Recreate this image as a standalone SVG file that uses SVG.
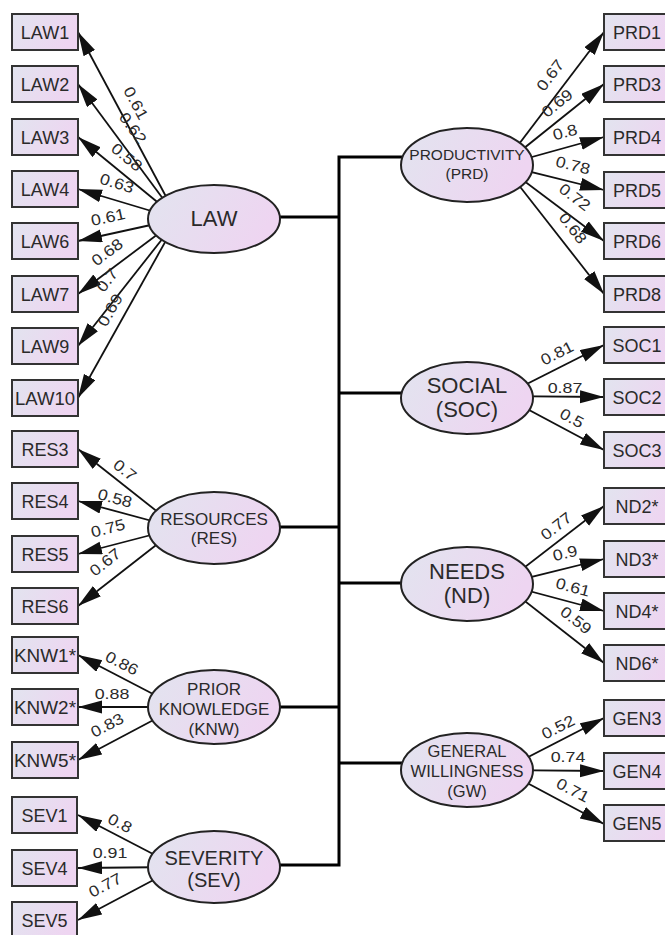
<svg xmlns="http://www.w3.org/2000/svg" width="665" height="935" viewBox="0 0 665 935">
<defs>
<linearGradient id="g" x1="0" y1="0" x2="1" y2="0.3">
<stop offset="0" stop-color="#e2e4ef"/>
<stop offset="1" stop-color="#eed5f1"/>
</linearGradient>
<marker id="ah" markerUnits="userSpaceOnUse" markerWidth="26" markerHeight="14" refX="24" refY="6.5" orient="auto">
<path d="M0,0 L24,6.5 L0,13 z" fill="#111"/>
</marker>
</defs>
<style>
.box{fill:url(#g);stroke:#333;stroke-width:2}
.ell{fill:url(#g);stroke:#222;stroke-width:2}
.bt{font-family:"Liberation Sans",Arial,sans-serif;font-size:18px;fill:#2a2a2a;text-anchor:middle}
.et{font-family:"Liberation Sans",Arial,sans-serif;fill:#2a2a2a;text-anchor:middle}
.lb{font-family:"Liberation Sans",Arial,sans-serif;font-size:15.5px;fill:#2a2a2a;text-anchor:middle}
.ar{stroke:#111;stroke-width:1.8;fill:none;marker-end:url(#ah)}
.bus{stroke:#000;stroke-width:3;fill:none}
</style>
<rect width="665" height="935" fill="#fff"/>
<g id="connectors">
<polyline class="bus" points="402,157 339,157 339,865 280,865"/>
<line class="bus" x1="280" y1="217" x2="339" y2="217"/>
<line class="bus" x1="280" y1="527" x2="339" y2="527"/>
<line class="bus" x1="280" y1="707" x2="339" y2="707"/>
<line class="bus" x1="339" y1="393" x2="402" y2="393"/>
<line class="bus" x1="339" y1="583" x2="402" y2="583"/>
<line class="bus" x1="339" y1="763" x2="402" y2="763"/>
<line class="ar" x1="178" y1="219" x2="78" y2="32"/>
<line class="ar" x1="178" y1="219" x2="78" y2="84"/>
<line class="ar" x1="178" y1="219" x2="78" y2="137"/>
<line class="ar" x1="178" y1="219" x2="78" y2="189"/>
<line class="ar" x1="178" y1="219" x2="78" y2="241"/>
<line class="ar" x1="178" y1="219" x2="78" y2="294"/>
<line class="ar" x1="178" y1="219" x2="78" y2="346"/>
<line class="ar" x1="178" y1="219" x2="78" y2="398"/>
<line class="ar" x1="178" y1="528" x2="78" y2="449"/>
<line class="ar" x1="178" y1="528" x2="78" y2="501"/>
<line class="ar" x1="178" y1="528" x2="78" y2="554"/>
<line class="ar" x1="178" y1="528" x2="78" y2="606"/>
<line class="ar" x1="178" y1="707" x2="78" y2="655"/>
<line class="ar" x1="178" y1="707" x2="78" y2="707"/>
<line class="ar" x1="178" y1="707" x2="78" y2="760"/>
<line class="ar" x1="178" y1="867" x2="78" y2="815"/>
<line class="ar" x1="178" y1="867" x2="78" y2="868"/>
<line class="ar" x1="178" y1="867" x2="78" y2="920"/>
<line class="ar" x1="503" y1="165" x2="604" y2="32"/>
<line class="ar" x1="503" y1="165" x2="604" y2="84"/>
<line class="ar" x1="503" y1="165" x2="604" y2="137"/>
<line class="ar" x1="503" y1="165" x2="604" y2="190"/>
<line class="ar" x1="503" y1="165" x2="604" y2="241"/>
<line class="ar" x1="503" y1="165" x2="604" y2="294"/>
<line class="ar" x1="503" y1="396" x2="604" y2="345"/>
<line class="ar" x1="503" y1="396" x2="604" y2="397"/>
<line class="ar" x1="503" y1="396" x2="604" y2="450"/>
<line class="ar" x1="503" y1="584" x2="604" y2="506"/>
<line class="ar" x1="503" y1="584" x2="604" y2="559"/>
<line class="ar" x1="503" y1="584" x2="604" y2="611"/>
<line class="ar" x1="503" y1="584" x2="604" y2="663"/>
<line class="ar" x1="503" y1="770" x2="604" y2="718"/>
<line class="ar" x1="503" y1="770" x2="604" y2="771"/>
<line class="ar" x1="503" y1="770" x2="604" y2="824"/>
<g class="lb">
<text transform="translate(136,103) rotate(61.9) scale(1.15,1)" y="5.5">0.61</text>
<text transform="translate(133,128) rotate(53.5) scale(1.15,1)" y="5.5">0.62</text>
<text transform="translate(127,157) rotate(39.4) scale(1.15,1)" y="5.5">0.58</text>
<text transform="translate(117,183) rotate(16.7) scale(1.15,1)" y="5.5">0.63</text>
<text transform="translate(108,217) rotate(-12.4) scale(1.15,1)" y="5.5">0.61</text>
<text transform="translate(107,252) rotate(-36.9) scale(1.15,1)" y="5.5">0.68</text>
<text transform="translate(107,280) rotate(-51.8) scale(1.15,1)" y="5.5">0.7</text>
<text transform="translate(110,310) rotate(-60.8) scale(1.15,1)" y="5.5">0.69</text>
<text transform="translate(125,470) rotate(38.3) scale(1.15,1)" y="5.5">0.7</text>
<text transform="translate(115,498) rotate(15.1) scale(1.15,1)" y="5.5">0.58</text>
<text transform="translate(108,528) rotate(-14.6) scale(1.15,1)" y="5.5">0.75</text>
<text transform="translate(105,562) rotate(-38) scale(1.15,1)" y="5.5">0.67</text>
<text transform="translate(122,663) rotate(27.5) scale(1.15,1)" y="5.5">0.86</text>
<text transform="translate(112,693) scale(1.15,1)" y="5.5">0.88</text>
<text transform="translate(107,725) rotate(-27.9) scale(1.15,1)" y="5.5">0.83</text>
<text transform="translate(120,823) rotate(27.5) scale(1.15,1)" y="5.5">0.8</text>
<text transform="translate(110,852) scale(1.15,1)" y="5.5">0.91</text>
<text transform="translate(105,885) rotate(-27.9) scale(1.15,1)" y="5.5">0.77</text>
<text transform="translate(550,75) rotate(-52.8) scale(1.15,1)" y="5.5">0.67</text>
<text transform="translate(557,103) rotate(-38.7) scale(1.15,1)" y="5.5">0.69</text>
<text transform="translate(565,132) rotate(-15.5) scale(1.15,1)" y="5.5">0.8</text>
<text transform="translate(573,165) rotate(13.9) scale(1.15,1)" y="5.5">0.78</text>
<text transform="translate(575,197) rotate(37) scale(1.15,1)" y="5.5">0.72</text>
<text transform="translate(573,228) rotate(51.9) scale(1.15,1)" y="5.5">0.68</text>
<text transform="translate(557,353) rotate(-26.8) scale(1.15,1)" y="5.5">0.81</text>
<text transform="translate(565,387) scale(1.15,1)" y="5.5">0.87</text>
<text transform="translate(572,418) rotate(28) scale(1.15,1)" y="5.5">0.5</text>
<text transform="translate(556,526) rotate(-37.7) scale(1.15,1)" y="5.5">0.77</text>
<text transform="translate(565,553) rotate(-13.9) scale(1.15,1)" y="5.5">0.9</text>
<text transform="translate(573,587) rotate(15) scale(1.15,1)" y="5.5">0.61</text>
<text transform="translate(576,620) rotate(38) scale(1.15,1)" y="5.5">0.59</text>
<text transform="translate(558,727) rotate(-27.2) scale(1.15,1)" y="5.5">0.52</text>
<text transform="translate(568,756) scale(1.15,1)" y="5.5">0.74</text>
<text transform="translate(573,790) rotate(28) scale(1.15,1)" y="5.5">0.71</text>
</g>
</g>
<g id="LAW"><ellipse class="ell" cx="214" cy="219" rx="66" ry="34"/><text class="et" x="214" y="226" font-size="22">LAW</text></g>
<g id="RES"><ellipse class="ell" cx="214" cy="528" rx="66" ry="36"/><text class="et" x="214" y="525" font-size="17">RESOURCES</text><text class="et" x="214" y="544" font-size="17">(RES)</text></g>
<g id="KNW"><ellipse class="ell" cx="214" cy="707" rx="66" ry="37"/><text class="et" x="214" y="695" font-size="17">PRIOR</text><text class="et" x="214" y="715" font-size="17">KNOWLEDGE</text><text class="et" x="214" y="735" font-size="17">(KNW)</text></g>
<g id="SEV"><ellipse class="ell" cx="214" cy="867" rx="66" ry="36"/><text class="et" x="214" y="865" font-size="20">SEVERITY</text><text class="et" x="214" y="887" font-size="20">(SEV)</text></g>
<g id="PRD"><ellipse class="ell" cx="467" cy="165" rx="66" ry="37"/><text class="et" x="467" y="160" font-size="15.5">PRODUCTIVITY</text><text class="et" x="467" y="179" font-size="15.5">(PRD)</text></g>
<g id="SOC"><ellipse class="ell" cx="467" cy="398" rx="66" ry="36"/><text class="et" x="467" y="393" font-size="22">SOCIAL</text><text class="et" x="467" y="417" font-size="22">(SOC)</text></g>
<g id="ND"><ellipse class="ell" cx="467" cy="584" rx="66" ry="37"/><text class="et" x="467" y="579" font-size="22">NEEDS</text><text class="et" x="467" y="603" font-size="22">(ND)</text></g>
<g id="GW"><ellipse class="ell" cx="467" cy="770" rx="66" ry="37"/><text class="et" x="467" y="757" font-size="16.5">GENERAL</text><text class="et" x="467" y="777" font-size="16.5">WILLINGNESS</text><text class="et" x="467" y="797" font-size="16.5">(GW)</text></g>
<g id="LAW1"><rect class="box" x="12" y="14" width="66" height="36"/><text class="bt" x="45" y="38.5">LAW1</text></g>
<g id="LAW2"><rect class="box" x="12" y="66" width="66" height="36"/><text class="bt" x="45" y="90.5">LAW2</text></g>
<g id="LAW3"><rect class="box" x="12" y="119" width="66" height="36"/><text class="bt" x="45" y="143.5">LAW3</text></g>
<g id="LAW4"><rect class="box" x="12" y="171" width="66" height="36"/><text class="bt" x="45" y="195.5">LAW4</text></g>
<g id="LAW6"><rect class="box" x="12" y="223" width="66" height="36"/><text class="bt" x="45" y="247.5">LAW6</text></g>
<g id="LAW7"><rect class="box" x="12" y="276" width="66" height="36"/><text class="bt" x="45" y="300.5">LAW7</text></g>
<g id="LAW9"><rect class="box" x="12" y="328" width="66" height="36"/><text class="bt" x="45" y="352.5">LAW9</text></g>
<g id="LAW10"><rect class="box" x="12" y="380" width="66" height="36"/><text class="bt" x="45" y="404.5" textLength="60" lengthAdjust="spacingAndGlyphs">LAW10</text></g>
<g id="RES3"><rect class="box" x="12" y="431" width="66" height="36"/><text class="bt" x="45" y="455.5">RES3</text></g>
<g id="RES4"><rect class="box" x="12" y="483" width="66" height="36"/><text class="bt" x="45" y="507.5">RES4</text></g>
<g id="RES5"><rect class="box" x="12" y="536" width="66" height="36"/><text class="bt" x="45" y="560.5">RES5</text></g>
<g id="RES6"><rect class="box" x="12" y="588" width="66" height="36"/><text class="bt" x="45" y="612.5">RES6</text></g>
<g id="KNW1"><rect class="box" x="12" y="637" width="66" height="36"/><text class="bt" x="45" y="661.5" textLength="62" lengthAdjust="spacingAndGlyphs">KNW1*</text></g>
<g id="KNW2"><rect class="box" x="12" y="689" width="66" height="36"/><text class="bt" x="45" y="713.5" textLength="62" lengthAdjust="spacingAndGlyphs">KNW2*</text></g>
<g id="KNW5"><rect class="box" x="12" y="742" width="66" height="36"/><text class="bt" x="45" y="766.5" textLength="62" lengthAdjust="spacingAndGlyphs">KNW5*</text></g>
<g id="SEV1"><rect class="box" x="12" y="797" width="65" height="36"/><text class="bt" x="44.5" y="821.5">SEV1</text></g>
<g id="SEV4"><rect class="box" x="12" y="850" width="65" height="36"/><text class="bt" x="44.5" y="874.5">SEV4</text></g>
<g id="SEV5"><rect class="box" x="12" y="902" width="65" height="36"/><text class="bt" x="44.5" y="926.5">SEV5</text></g>
<g id="PRD1"><rect class="box" x="604" y="14" width="70" height="36"/><text class="bt" x="637" y="38.5">PRD1</text></g>
<g id="PRD3"><rect class="box" x="604" y="66" width="70" height="36"/><text class="bt" x="637" y="90.5">PRD3</text></g>
<g id="PRD4"><rect class="box" x="604" y="119" width="70" height="36"/><text class="bt" x="637" y="143.5">PRD4</text></g>
<g id="PRD5"><rect class="box" x="604" y="172" width="70" height="36"/><text class="bt" x="637" y="196.5">PRD5</text></g>
<g id="PRD6"><rect class="box" x="604" y="223" width="70" height="36"/><text class="bt" x="637" y="247.5">PRD6</text></g>
<g id="PRD8"><rect class="box" x="604" y="276" width="70" height="36"/><text class="bt" x="637" y="300.5">PRD8</text></g>
<g id="SOC1"><rect class="box" x="604" y="327" width="70" height="36"/><text class="bt" x="637" y="351.5">SOC1</text></g>
<g id="SOC2"><rect class="box" x="604" y="379" width="70" height="36"/><text class="bt" x="637" y="403.5">SOC2</text></g>
<g id="SOC3"><rect class="box" x="604" y="432" width="70" height="36"/><text class="bt" x="637" y="456.5">SOC3</text></g>
<g id="ND2"><rect class="box" x="604" y="488" width="70" height="36"/><text class="bt" x="637" y="512.5">ND2*</text></g>
<g id="ND3"><rect class="box" x="604" y="541" width="70" height="36"/><text class="bt" x="637" y="565.5">ND3*</text></g>
<g id="ND4"><rect class="box" x="604" y="593" width="70" height="36"/><text class="bt" x="637" y="617.5">ND4*</text></g>
<g id="ND6"><rect class="box" x="604" y="645" width="70" height="36"/><text class="bt" x="637" y="669.5">ND6*</text></g>
<g id="GEN3"><rect class="box" x="604" y="700" width="70" height="36"/><text class="bt" x="637" y="724.5">GEN3</text></g>
<g id="GEN4"><rect class="box" x="604" y="753" width="70" height="36"/><text class="bt" x="637" y="777.5">GEN4</text></g>
<g id="GEN5"><rect class="box" x="604" y="805" width="70" height="36"/><text class="bt" x="637" y="829.5">GEN5</text></g>
</svg>
